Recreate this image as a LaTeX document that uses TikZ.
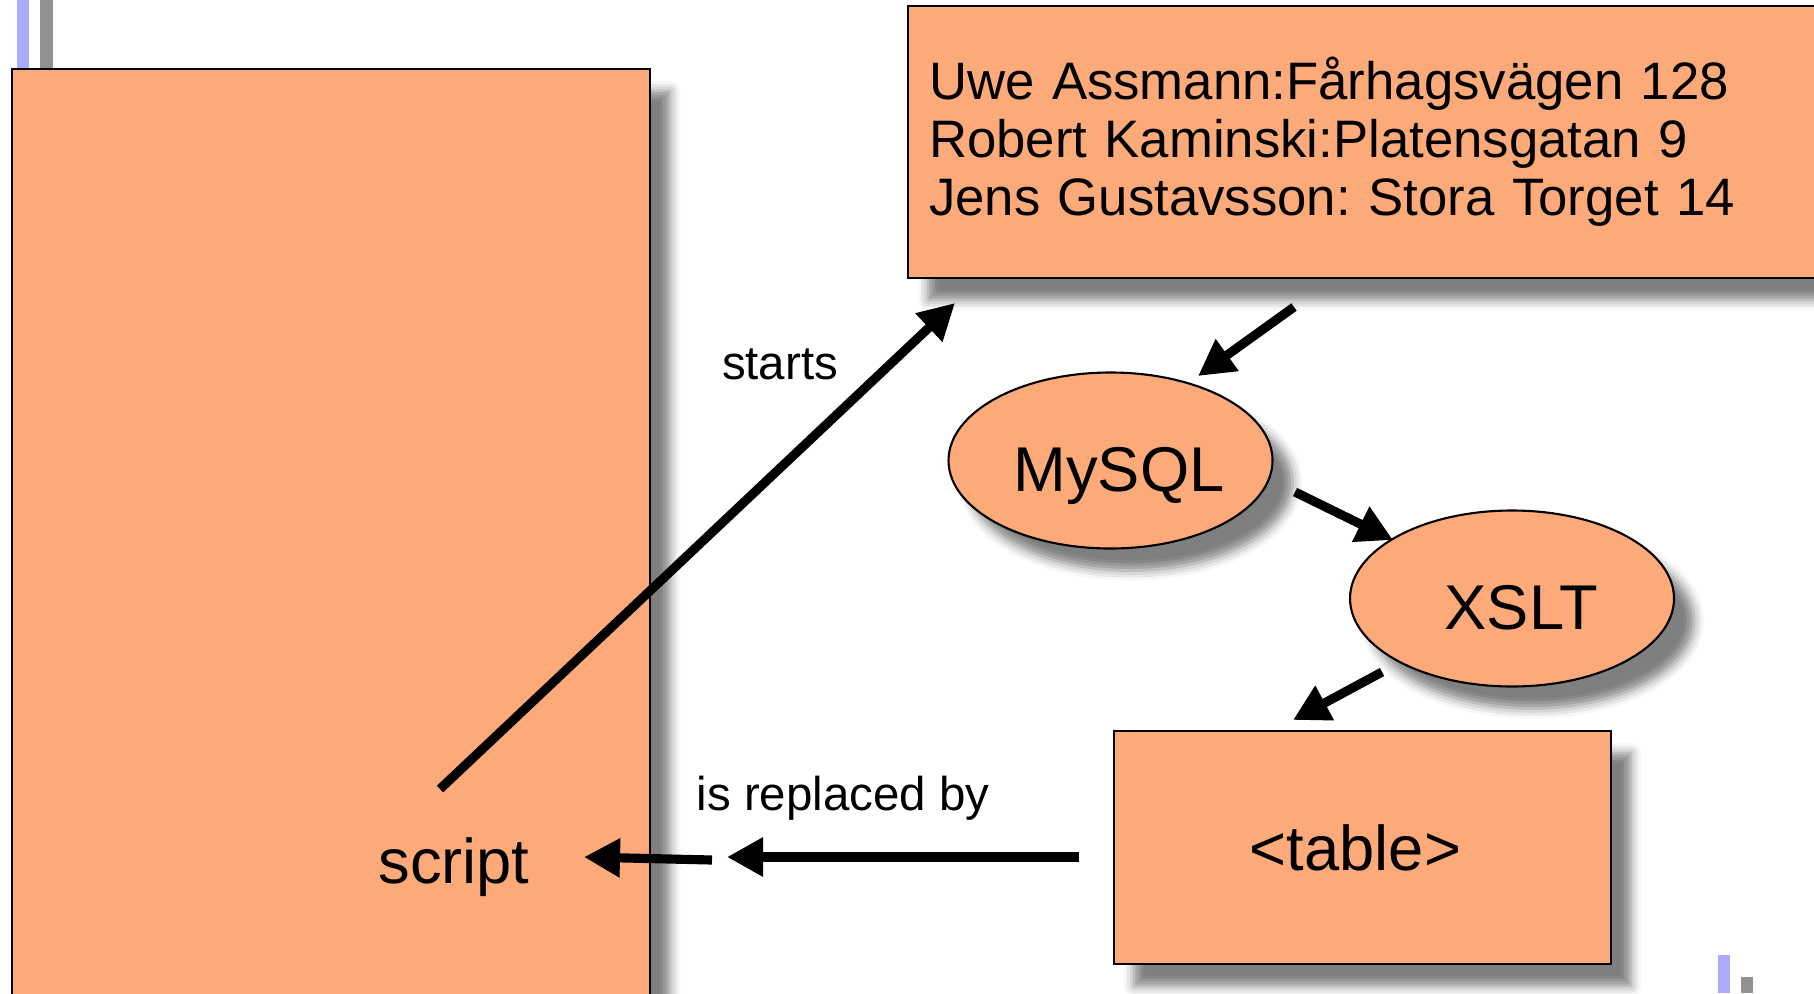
\documentclass[tikz,border=0pt]{standalone}
\usepackage{fontspec}
\setmainfont{Liberation Sans}
\usepackage{tikz}
\usetikzlibrary{shapes,arrows.meta,shadows.blur}
\definecolor{boxOrange}{RGB}{252,170,122}
\definecolor{barBlue}{RGB}{170,170,255}
\definecolor{barGray}{RGB}{145,145,145}
\tikzstyle{arrow} = [draw, -{Triangle[length=0.36cm, width=0.37cm]}, line width=2.6pt]
\tikzstyle{dropShadow} = [blur shadow={shadow xshift=0.2cm, shadow yshift=-0.22cm,
    shadow opacity=50, shadow blur radius=0.1cm}]
\tikzstyle{rectBlock} = [draw, rectangle, fill=boxOrange, line width=0.6pt, dropShadow,
    font=\fontsize{18}{20}\selectfont]
\tikzstyle{ellipseBlock} = [draw, ellipse, fill=boxOrange, line width=0.6pt, dropShadow,
    minimum width=3.24cm, minimum height=1.76cm, inner xsep=0pt,
    text height=0.62cm, text depth=0cm, font=\fontsize{18}{20}\selectfont]
\tikzstyle{labelText} = [font=\fontsize{13.5}{15}\selectfont]

\begin{document}
\frenchspacing
\begin{tikzpicture}
      \path [use as bounding box, clip] (0,0) rectangle (18.14,-9.93);

      % corner bars
      \fill [barBlue] (0.17,0) rectangle (0.29,-0.69);
      \fill [barGray] (0.40,0) rectangle (0.53,-0.69);
      \fill [barBlue] (17.18,-9.55) rectangle (17.30,-9.93);
      \fill [barGray] (17.41,-9.77) rectangle (17.53,-9.93);

      % Place nodes
      \node [rectBlock, minimum width=6.38cm, minimum height=9.51cm] (page) at (3.31,-5.445) {};
      \node [font=\fontsize{18}{20}\selectfont] (script) at (4.54,-8.67) {script};

      \node [rectBlock, minimum width=9.22cm, minimum height=2.72cm, text width=8.80cm,
             inner xsep=0.21cm, align=left, font=\fontsize{15}{16.5}\selectfont] (addresses) at (13.69,-1.42)
            {Uwe Assmann:Fårhagsvägen 128\\Robert Kaminski:Platensgatan 9\\Jens Gustavsson: Stora Torget 14};

      \node [ellipseBlock] (mysql) at (11.105,-4.605) {\hspace{0.17cm}MySQL};
      \node [ellipseBlock, right of=mysql, node distance=4.015cm, yshift=-1.38cm] (xslt) {\hspace{0.19cm}XSLT};
      \node [rectBlock, below of=xslt, node distance=2.49cm, xshift=-1.495cm,
             minimum width=4.97cm, minimum height=2.33cm] (table) {<table>\kern0.14cm};

      \node [labelText] (startsLabel) at (7.80,-3.64) {starts};
      \node [labelText] (replacedLabel) at (8.43,-7.98) {is replaced by};

      % arrow ends
      \coordinate (scriptOut) at (4.40,-7.89);
      \coordinate (addressesIn) at (9.55,-3.03);
      \coordinate (addressesOut) at (12.94,-3.07);
      \coordinate (mysqlIn) at (11.98,-3.76);
      \coordinate (mysqlOut) at (12.95,-4.92);
      \coordinate (xsltIn) at (13.93,-5.40);
      \coordinate (xsltOut) at (13.82,-6.72);
      \coordinate (tableIn) at (12.93,-7.20);
      \coordinate (tableOut) at (10.79,-8.57);
      \coordinate (gapIn) at (7.27,-8.57);
      \coordinate (gapOut) at (7.12,-8.60);
      \coordinate (scriptIn) at (5.84,-8.57);

      \path [arrow] (scriptOut) -- (addressesIn);
      \path [arrow] (addressesOut) -- (mysqlIn);
      \path [arrow] (mysqlOut) -- (xsltIn);
      \path [arrow] (xsltOut) -- (tableIn);
      \path [arrow] (tableOut) -- (gapIn);
      \path [arrow] (gapOut) -- (scriptIn);

  \end{tikzpicture}
\end{document}
